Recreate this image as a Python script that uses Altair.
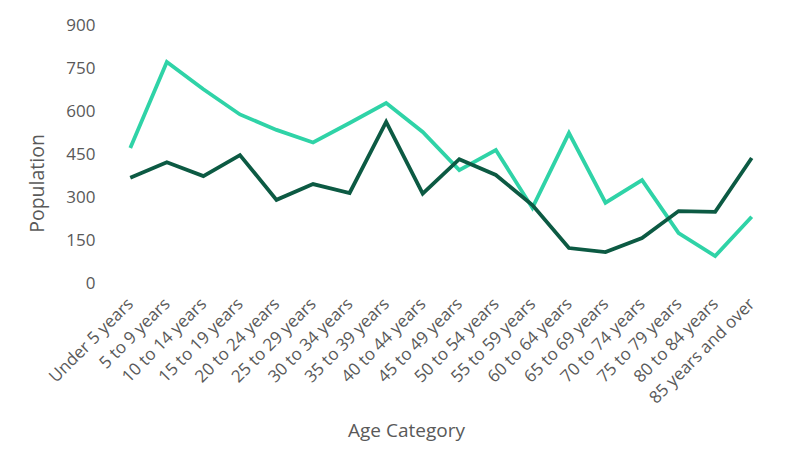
import altair as alt
import pandas as pd

categories = ["Under 5 years", "5 to 9 years", "10 to 14 years", "15 to 19 years",
              "20 to 24 years", "25 to 29 years", "30 to 34 years", "35 to 39 years",
              "40 to 44 years", "45 to 49 years", "50 to 54 years", "55 to 59 years",
              "60 to 64 years", "65 to 69 years", "70 to 74 years", "75 to 79 years",
              "80 to 84 years", "85 years and over"]
light_values = [471, 771, 676, 588, 534, 490, 558, 628, 527, 394, 464, 262,
                523, 280, 359, 174, 94, 231]
dark_values = [367, 421, 373, 446, 290, 345, 314, 562, 312, 432, 377, 272,
               122, 108, 157, 251, 248, 436]
series_names = ["Series A", "Series B"]
colors = ["#2fd3a7", "#0c5a43"]

rows = []
for i, c in enumerate(categories):
    rows.append({"cat": c, "series": series_names[0], "value": light_values[i], "order": i})
    rows.append({"cat": c, "series": series_names[1], "value": dark_values[i], "order": i})
df = pd.DataFrame(rows)

font = "Open Sans"

chart = alt.Chart(df).mark_line(strokeWidth=3.8, strokeJoin="miter").encode(
    x=alt.X("cat:N", sort=categories,
            scale=alt.Scale(type="point", padding=0.5),
            axis=alt.Axis(title="Age Category", labelAngle=-45, labelAlign="right",
                          labelBaseline="middle", labelPadding=18, ticks=False,
                          domain=False, grid=False, labelFontSize=17,
                          labelColor="#595959", titleColor="#595959",
                          titleFontSize=19, titleFontWeight="normal",
                          titleX=294, titleY=147, titleBaseline="middle",
                          labelFont=font, titleFont=font)),
    y=alt.Y("value:Q", scale=alt.Scale(domain=[0, 900], nice=False),
            axis=alt.Axis(title="Population", values=[0, 150, 300, 450, 600, 750, 900],
                          ticks=False, domain=False, grid=False, labelFontSize=17,
                          labelColor="#595959", titleColor="#595959",
                          titleFontSize=19.5, titleFontWeight="normal",
                          titleX=-75, titleY=158, titleBaseline="middle",
                          labelPadding=17, labelFont=font, titleFont=font)),
    color=alt.Color("series:N", scale=alt.Scale(domain=series_names, range=colors), legend=None),
    order="order:Q",
).properties(
    width=658, height=258,
    autosize=alt.AutoSizeParams(type="none"),
    padding={"left": 112, "top": 25, "right": 19, "bottom": 191},
).configure(background="white").configure_view(strokeWidth=0, strokeOpacity=0)

chart.save("out.html", embed_options={"renderer": "svg", "actions": False})
